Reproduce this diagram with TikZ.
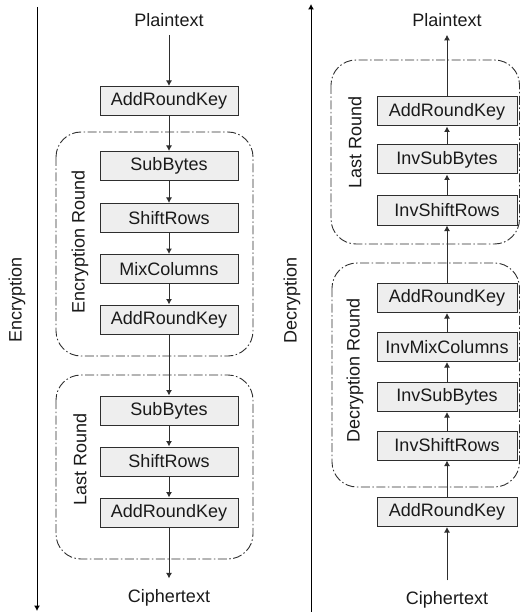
\documentclass[tikz,border=0pt]{standalone}
\usepackage{fontspec}
\setmainfont{Liberation Sans}
\usepackage{xcolor}
\usetikzlibrary{arrows.meta}

\definecolor{linegray}{HTML}{2E2E2E}
\definecolor{boxfill}{HTML}{EEEEEE}
\definecolor{textgray}{HTML}{1A1A1A}

\begin{document}
\begin{tikzpicture}[x=1pt, y=-1pt,
    every node/.style={font=\fontsize{18}{21}\selectfont, text=textgray},
    stepbox/.style={draw=linegray, fill=boxfill, line width=1pt,
        minimum width=138pt, minimum height=29pt, inner sep=0pt},
    iotext/.style={inner sep=8pt},
    roundbox/.style={draw=linegray, line width=0.9pt, rounded corners=25pt,
        dash pattern=on 9pt off 2.5pt on 1.5pt off 2.5pt},
    flow/.style={draw=linegray, line width=1pt, -{Latex[length=5.5pt,width=6pt]}},
    axis/.style={draw=black, line width=1pt, -{Latex[length=5.5pt,width=6pt]}}]
    \useasboundingbox (0,0) rectangle (520,612);

    % Encryption axis
    \coordinate (encTop) at (37,7);
    \coordinate (encBot) at (37,611);
    \draw[axis] (encTop) -- (encBot);
    \node[rotate=90] (encLabel) at (17,300) {Encryption};

    % Encryption rounds
    \draw[roundbox] (56,132) rectangle (253,356);
    \draw[roundbox] (56,375) rectangle (253,559);
    \node[rotate=90] (encRound) at (80,242) {Encryption Round};
    \node[rotate=90] (encLast) at (80,459) {Last Round};

    % Encryption steps
    \node[iotext] (encIn) at (169,20) {Plaintext};
    \node[stepbox] (encArk0) at (169,101) {AddRoundKey};
    \node[stepbox] (encSb1) at (169,166) {SubBytes};
    \node[stepbox] (encSr1) at (169,218) {ShiftRows};
    \node[stepbox] (encMc) at (169,269) {MixColumns};
    \node[stepbox] (encArk1) at (169,319.5) {AddRoundKey};
    \node[stepbox] (encSb2) at (169,410.5) {SubBytes};
    \node[stepbox] (encSr2) at (169,461.5) {ShiftRows};
    \node[stepbox] (encArk2) at (169,512.5) {AddRoundKey};
    \node[iotext] (encOut) at (169,598) {Ciphertext};

    \draw[flow] (encIn) -- (encArk0);
    \draw[flow] (encArk0) -- (encSb1);
    \draw[flow] (encSb1) -- (encSr1);
    \draw[flow] (encSr1) -- (encMc);
    \draw[flow] (encMc) -- (encArk1);
    \draw[flow] (encArk1) -- (encSb2);
    \draw[flow] (encSb2) -- (encSr2);
    \draw[flow] (encSr2) -- (encArk2);
    \draw[flow, shorten >=3pt] (encArk2) -- (encOut);

    % Decryption axis
    \coordinate (decBot) at (311,612);
    \coordinate (decTop) at (311,4);
    \draw[axis] (decBot) -- (decTop);
    \node[rotate=90] (decLabel) at (292,300) {Decryption};

    % Decryption rounds
    \draw[roundbox] (331,60) rectangle (519.5,244);
    \draw[roundbox] (332,263) rectangle (519.5,487);
    \node[rotate=90] (decLast) at (355,142) {Last Round};
    \node[rotate=90] (decRound) at (355,370) {Decryption Round};

    % Decryption steps
    \node[iotext] (decOut) at (447,20) {Plaintext};
    \node[stepbox, minimum width=140pt] (decArk2) at (447,111.5) {AddRoundKey};
    \node[stepbox, minimum width=140pt] (decIsb2) at (447,159.5) {InvSubBytes};
    \node[stepbox, minimum width=140pt] (decIsr2) at (447,210.5) {InvShiftRows};
    \node[stepbox, minimum width=140pt] (decArk1) at (447,298) {AddRoundKey};
    \node[stepbox, minimum width=140pt] (decImc) at (447,347) {InvMixColumns};
    \node[stepbox, minimum width=140pt] (decIsb1) at (447,397) {InvSubBytes};
    \node[stepbox, minimum width=140pt] (decIsr1) at (447,445.5) {InvShiftRows};
    \node[stepbox, minimum width=140pt] (decArk0) at (447,512) {AddRoundKey};
    \node[iotext] (decIn) at (447,600) {Ciphertext};

    \draw[flow, shorten <=3pt] (decIn) -- (decArk0);
    \draw[flow] (decArk0) -- (decIsr1);
    \draw[flow] (decIsr1) -- (decIsb1);
    \draw[flow] (decIsb1) -- (decImc);
    \draw[flow] (decImc) -- (decArk1);
    \draw[flow] (decArk1) -- (decIsr2);
    \draw[flow] (decIsr2) -- (decIsb2);
    \draw[flow] (decIsb2) -- (decArk2);
    \draw[flow] (decArk2) -- (decOut);
\end{tikzpicture}
\end{document}
